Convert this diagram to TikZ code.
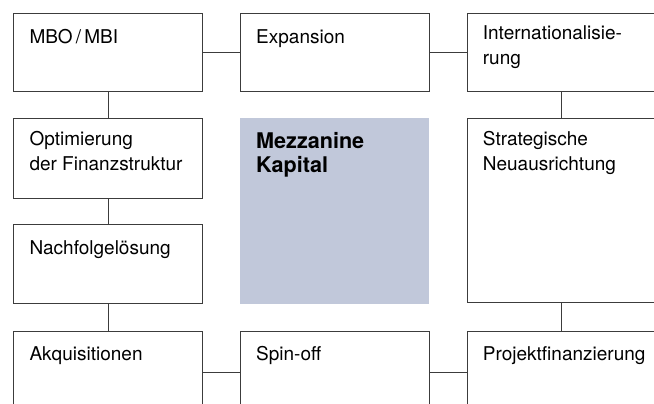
\documentclass[tikz,border=0pt]{standalone}
\usepackage{fontspec}
\setmainfont{TeX Gyre Heros}
\definecolor{linegray}{HTML}{3C3C3C}
\definecolor{mezzblue}{HTML}{C1C8DA}

\begin{document}
\begin{tikzpicture}[x=1pt, y=-1pt,
  box/.style={draw=linegray, line width=1pt, anchor=north west, inner sep=0pt, minimum width=188.5pt},
  boxtext/.style={anchor=north west, inner sep=0pt, align=left, xshift=16pt, yshift=-12.5pt,
    font=\fontsize{19}{25}\selectfont, execute at begin node=\strut},
  mezz/.style={fill=mezzblue, anchor=north west, inner sep=0pt, minimum width=188.5pt},
  mezztext/.style={anchor=north west, inner sep=0pt, align=left, xshift=16pt, yshift=-14.2pt,
    font=\fontsize{21.6}{23.5}\selectfont\bfseries, execute at begin node=\strut},
  conn/.style={draw=linegray, line width=1pt}]
  \useasboundingbox (0,0) rectangle (654,404);
  \clip (0,0) rectangle (654,404);

  \node [box, minimum height=77.4pt, label={[boxtext]north west:{MBO\,/\,MBI}}] (mbo) at (13.3,13.3) {};
  \node [box, minimum height=77.4pt, label={[boxtext]north west:{Expansion}}] (expansion) at (240,13.3) {};
  \node [box, minimum height=77.4pt, label={[boxtext]north west:{Internationalisie-\\rung}}] (intl) at (466.7,13.3) {};

  \node [box, minimum height=80pt, label={[boxtext]north west:{Optimierung\\der Finanzstruktur}}] (optim) at (13.3,118.3) {};
  \node [mezz, minimum height=185pt, label={[mezztext]north west:{Mezzanine\\Kapital}}] (mezzanine) at (240,118.3) {};
  \node [box, minimum height=183.4pt, label={[boxtext]north west:{Strategische\\Neuausrichtung}}] (strat) at (466.7,118.3) {};

  \node [box, minimum height=79pt, label={[boxtext]north west:{Nachfolgelösung}}] (nachf) at (13.3,224.3) {};

  \node [box, minimum height=82pt, label={[boxtext]north west:{Akquisitionen}}] (akqu) at (13.3,330.7) {};
  \node [box, minimum height=82pt, label={[boxtext]north west:{Spin-off}}] (spin) at (240,330.7) {};
  \node [box, minimum height=82pt, label={[boxtext]north west:{Projektfinanzierung}}] (projekt) at (466.7,330.7) {};

  \draw [conn] (mbo.east) -- (expansion.west);
  \draw [conn] (expansion.east) -- (intl.west);
  \draw [conn] (mbo.south) -- (optim.north);
  \draw [conn] (optim.south) -- (nachf.north);
  \draw [conn] (nachf.south) -- (akqu.north);
  \draw [conn] (intl.south) -- (strat.north);
  \draw [conn] (strat.south) -- (projekt.north);
  \draw [conn] (akqu.east) -- (spin.west);
  \draw [conn] (spin.east) -- (projekt.west);
\end{tikzpicture}
\end{document}
